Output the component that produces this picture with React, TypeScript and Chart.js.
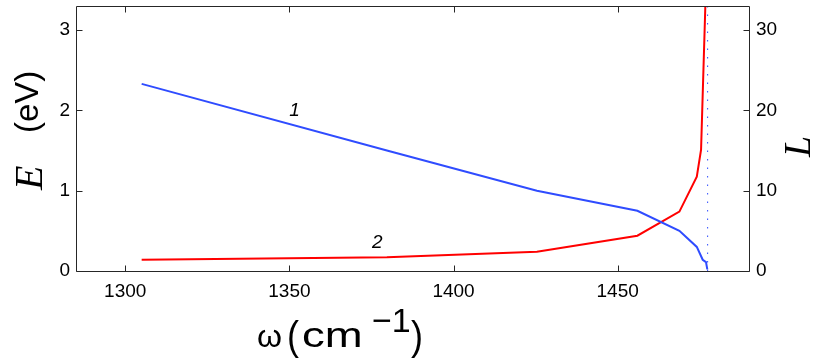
import { useEffect, useRef } from 'react';
import { Chart, registerables } from 'chart.js';

Chart.register(...registerables);

// ---- data ----
const omegaBlue = [1305, 1379.7, 1425.4, 1456, 1468.8, 1474.1, 1475.9, 1476.9, 1477.3];
const energyE = [2.33, 1.5, 1.0, 0.75, 0.5, 0.3, 0.14, 0.11, 0.02];

const omegaRed = [1305, 1379.7, 1425.4, 1456, 1468.8, 1474.1, 1475.4, 1476.7];
const lengthL = [1.4, 1.7, 2.4, 4.4, 7.4, 11.75, 15.1, 33];

const asymptoteOmega = [1477.4, 1477.4];
const asymptoteE = [0, 3.3];

const xTicks = [1300, 1350, 1400, 1450];
const eTicks = [0, 1, 2, 3];
const lTicks = [0, 10, 20, 30];

const curveLabels = ['1', '2'];
const curveLabelOmega = [1351.6, 1376.8];
const curveLabelE = [1.99, 0.35];

const X_MIN = 1285;
const X_MAX = 1490;
const E_MAX = 3.3;
const L_MAX = 33;

const SANS = '"Liberation Sans", Arial, Helvetica, sans-serif';
const SERIF = '"Liberation Serif", "Times New Roman", serif';
const BLUE = '#2f4cff';
const RED = '#ff0000';
const AXIS = '#262626';

const decorPlugin = {
  id: 'decor',
  afterDraw(chart: any) {
    const { ctx, chartArea: a, scales } = chart;
    const xs = scales.x;
    const ys = scales.y;
    const yr = scales.yR;
    ctx.save();
    // frame
    ctx.strokeStyle = AXIS;
    ctx.lineWidth = 1;
    const L = Math.round(a.left) + 0.5;
    const R = Math.round(a.right) + 0.5;
    const T = Math.round(a.top) + 0.5;
    const B = Math.round(a.bottom) + 0.5;
    ctx.beginPath();
    ctx.rect(L, T, R - L, B - T);
    // inward ticks
    const tl = 6;
    xTicks.forEach((v) => {
      const px = Math.round(xs.getPixelForValue(v)) + 0.5;
      ctx.moveTo(px, B);
      ctx.lineTo(px, B - tl);
      ctx.moveTo(px, T);
      ctx.lineTo(px, T + tl);
    });
    eTicks.forEach((v) => {
      const py = Math.round(ys.getPixelForValue(v)) + 0.5;
      ctx.moveTo(L, py);
      ctx.lineTo(L + tl, py);
    });
    lTicks.forEach((v) => {
      const py = Math.round(yr.getPixelForValue(v)) + 0.5;
      ctx.moveTo(R, py);
      ctx.lineTo(R - tl, py);
    });
    ctx.stroke();

    ctx.fillStyle = '#000';
    ctx.textAlign = 'center';
    // curve labels
    ctx.font = `italic 19px ${SANS}`;
    ctx.textBaseline = 'middle';
    curveLabels.forEach((t, i) => {
      ctx.fillText(t, xs.getPixelForValue(curveLabelOmega[i]), ys.getPixelForValue(curveLabelE[i]));
    });
    ctx.textBaseline = 'alphabetic';
    ctx.textAlign = 'left';

    // left axis title: E (eV)
    ctx.save();
    ctx.translate(42, 190);
    ctx.rotate(-Math.PI / 2);
    ctx.font = `italic 40px ${SERIF}`;
    ctx.fillText('E', 0, 0);
    ctx.restore();
    ctx.save();
    ctx.translate(38, 133);
    ctx.rotate(-Math.PI / 2);
    ctx.font = `33px ${SANS}`;
    ctx.fillText('(eV)', 0, 0);
    ctx.restore();

    // right axis title: L (reads bottom to top)
    ctx.save();
    ctx.translate(810, 157);
    ctx.rotate(-Math.PI / 2);
    ctx.font = `italic 38px ${SERIF}`;
    ctx.fillText('L', 0, 0);
    ctx.restore();

    // bottom axis title: ω (cm^-1)
    const piece = (text: string, x: number, y: number, size: number, sx: number) => {
      ctx.save();
      ctx.translate(x, y);
      ctx.scale(sx, 1);
      ctx.font = `${size}px ${SANS}`;
      ctx.fillText(text, 0, 0);
      ctx.restore();
    };
    piece('ω', 257, 347, 32, 1.0);
    piece('(', 287, 350, 40, 0.9);
    piece('cm', 302, 347, 35, 1.3);
    piece('−1', 372, 332, 34, 1.0);
    piece(')', 411, 350, 40, 0.9);
    ctx.restore();
  },
};

export default function App() {
  const ref = useRef<HTMLCanvasElement>(null);
  useEffect(() => {
    document.body.style.margin = '0';
    const canvas = ref.current!;
    const tickFont = { family: SANS, size: 19 };
    const plain = (v: any) => String(v);
    const chart = new Chart(canvas, {
      type: 'line',
      data: {
        datasets: [
          {
            label: 'asymptote',
            data: asymptoteOmega.map((x, i) => ({ x, y: asymptoteE[i] })),
            borderColor: BLUE,
            borderWidth: 1,
            borderDash: [1.5, 7],
            pointRadius: 0,
            yAxisID: 'y',
          },
          {
            label: 'E',
            data: omegaBlue.map((x, i) => ({ x, y: energyE[i] })),
            borderColor: BLUE,
            borderWidth: 2,
            pointRadius: 0,
            tension: 0,
            yAxisID: 'y',
          },
          {
            label: 'L',
            data: omegaRed.map((x, i) => ({ x, y: lengthL[i] })),
            borderColor: RED,
            borderWidth: 2,
            pointRadius: 0,
            tension: 0,
            yAxisID: 'yR',
          },
        ],
      },
      options: {
        animation: false,
        responsive: false,
        devicePixelRatio: 1,
        layout: { padding: { top: 6, left: 0, right: 0, bottom: 0 } },
        plugins: { legend: { display: false }, tooltip: { enabled: false } },
        scales: {
          x: {
            type: 'linear',
            min: X_MIN,
            max: X_MAX,
            grid: { display: false, drawTicks: false },
            border: { display: false },
            ticks: { font: tickFont, color: '#000', padding: 9, maxRotation: 0, callback: plain },
            afterBuildTicks: (s: any) => {
              s.ticks = xTicks.map((v) => ({ value: v }));
            },
            afterFit: (s: any) => {
              s.height = 90;
              s.paddingLeft = 0;
              s.paddingRight = 0;
            },
          },
          y: {
            type: 'linear',
            position: 'left',
            min: 0,
            max: E_MAX,
            grid: { display: false, drawTicks: false },
            border: { display: false },
            ticks: { font: tickFont, color: '#000', padding: 6, callback: plain },
            afterBuildTicks: (s: any) => {
              s.ticks = eTicks.map((v) => ({ value: v }));
            },
            afterFit: (s: any) => {
              s.width = 76;
              s.paddingTop = 0;
              s.paddingBottom = 0;
            },
          },
          yR: {
            type: 'linear',
            position: 'right',
            min: 0,
            max: L_MAX,
            grid: { display: false, drawTicks: false },
            border: { display: false },
            ticks: { font: tickFont, color: '#000', padding: 7, callback: plain },
            afterBuildTicks: (s: any) => {
              s.ticks = lTicks.map((v) => ({ value: v }));
            },
            afterFit: (s: any) => {
              s.width = 81;
              s.paddingTop = 0;
              s.paddingBottom = 0;
            },
          },
        },
      },
      plugins: [decorPlugin],
    });
    return () => chart.destroy();
  }, []);
  return <canvas ref={ref} width={830} height={361} style={{ display: 'block', width: 830, height: 361 }} />;
}
